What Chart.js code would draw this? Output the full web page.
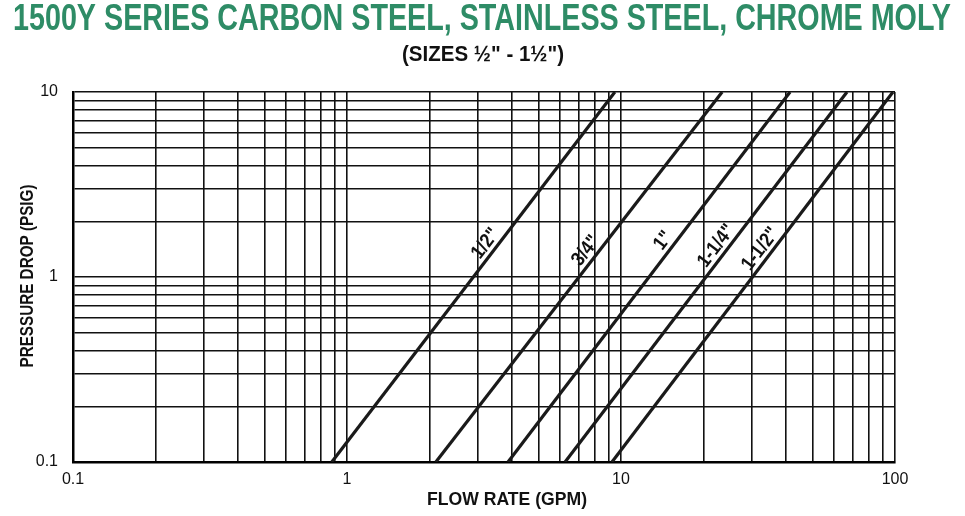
<!DOCTYPE html>
<html>
<head>
<meta charset="utf-8">
<script src="https://cdn.jsdelivr.net/npm/chart.js@4.4.0/dist/chart.umd.min.js"></script>
<style>
  html, body { margin: 0; padding: 0; background: #fff; }
  #wrap { width: 965px; height: 516px; }
</style>
</head>
<body>
<div id="wrap"><canvas id="chart" width="965" height="516"></canvas></div>
<script>
// pipe sizes and their flow rate (GPM) at 0.1 and 10 psig
const sizeLabels = ['1/2"', '3/4"', '1"', '1-1/4"', '1-1/2"'];
const pressureEnds = [0.1, 10];
const flowHalfInch = [0.88, 9.5];
const flowThreeQuarterInch = [2.11, 23.4];
const flowOneInch = [3.87, 41.4];
const flowOneQuarterInch = [6.25, 66.8];
const flowOneHalfInch = [9.27, 98.3];
const flowSeries = [flowHalfInch, flowThreeQuarterInch, flowOneInch, flowOneQuarterInch, flowOneHalfInch];
// pressure where each size label sits on its line
const labelPressure = [1.40, 1.28, 1.45, 1.36, 1.31];

// grid lines and labelled ticks
const xGridValues = [0.1, 0.2, 0.3, 0.4, 0.5, 0.6, 0.7, 0.8, 0.9,
                     1, 2, 3, 4, 5, 6, 7, 8, 9,
                     10, 20, 30, 40, 50, 60, 70, 80, 90, 100];
const yGridValues = [0.1, 0.2, 0.3, 0.4, 0.5, 0.6, 0.7, 0.8, 0.9,
                     1, 2, 3, 4, 5, 6, 7, 8, 9, 10];
const xTickLabels = [0.1, 1, 10, 100];
const yTickLabels = [0.1, 1, 10];

const titleText = '1500Y SERIES CARBON STEEL, STAINLESS STEEL, CHROME MOLY';
const subtitleText = '(SIZES ½" - 1½")';
const xTitleText = 'FLOW RATE (GPM)';
const yTitleText = 'PRESSURE DROP (PSIG)';

const FAMILY = '"Liberation Sans", Arial, sans-serif';

// draws text squeezed horizontally to a given width (the original uses condensed type)
function drawFitted(ctx, text, cx, cy, font, width, color, angle) {
    ctx.save();
    ctx.font = font;
    ctx.fillStyle = color;
    ctx.textAlign = 'center';
    ctx.textBaseline = 'middle';
    ctx.translate(cx, cy);
    if (angle) ctx.rotate(angle);
    const w = ctx.measureText(text).width;
    ctx.scale(width / w, 1);
    ctx.fillText(text, 0, 0);
    ctx.restore();
}

const textLayer = {
    id: 'textLayer',
    afterDatasetsDraw(chart) {
        const ctx = chart.ctx;
        const yScale = chart.scales.y;

        // labels along each line
        chart.data.datasets.forEach((ds, i) => {
            const pts = chart.getDatasetMeta(i).data;
            const p0 = pts[0], p1 = pts[1];
            const py = yScale.getPixelForValue(labelPressure[i]);
            const t = (py - p0.y) / (p1.y - p0.y);
            const px = p0.x + t * (p1.x - p0.x);
            const angle = Math.atan2(p1.y - p0.y, p1.x - p0.x);
            ctx.save();
            ctx.translate(px, py);
            ctx.rotate(angle);
            ctx.font = 'bold 20px ' + FAMILY;
            ctx.fillStyle = '#111';
            ctx.textAlign = 'center';
            ctx.textBaseline = 'alphabetic';
            ctx.scale(0.88, 1);
            ctx.fillText(ds.label, 0, -5);
            ctx.restore();
        });
    },
    afterDraw(chart) {
        const ctx = chart.ctx;
        drawFitted(ctx, titleText, 482, 20, 'bold 36px ' + FAMILY, 938, '#2e8c66');
        drawFitted(ctx, subtitleText, 483, 55, 'bold 22px ' + FAMILY, 162, '#111');
        drawFitted(ctx, xTitleText, 507, 500, 'bold 18px ' + FAMILY, 160, '#111');
        drawFitted(ctx, yTitleText, 28, 276, 'bold 18px ' + FAMILY, 183, '#111', -Math.PI / 2);
    }
};

const gridStyle = { color: '#111', lineWidth: 1.6, drawTicks: false };

new Chart(document.getElementById('chart'), {
    type: 'line',
    data: {
        datasets: flowSeries.map((flow, i) => ({
            label: sizeLabels[i],
            data: flow.map((f, j) => ({ x: f, y: pressureEnds[j] })),
            borderColor: '#1a1a1a',
            borderWidth: 3.2,
            pointRadius: 0,
            fill: false,
            tension: 0,
        })),
    },
    options: {
        responsive: false,
        animation: false,
        layout: { padding: { top: 92, right: 70, bottom: 0, left: 0 } },
        scales: {
            x: {
                type: 'logarithmic',
                min: 0.1,
                max: 100,
                afterBuildTicks: scale => { scale.ticks = xGridValues.map(v => ({ value: v })); },
                afterFit: scale => { scale.height = 54; },
                ticks: {
                    autoSkip: false,
                    maxRotation: 0,
                    padding: 8,
                    color: '#111',
                    font: { family: FAMILY, size: 16 },
                    callback: v => xTickLabels.includes(v) ? String(v) : '',
                },
                grid: gridStyle,
                border: { color: '#000', width: 2.5 },
            },
            y: {
                type: 'logarithmic',
                min: 0.1,
                max: 10,
                afterBuildTicks: scale => { scale.ticks = yGridValues.map(v => ({ value: v })); },
                afterFit: scale => { scale.width = 73; },
                ticks: {
                    autoSkip: false,
                    padding: 15,
                    color: '#111',
                    font: { family: FAMILY, size: 16 },
                    callback: v => yTickLabels.includes(v) ? String(v) : '',
                },
                grid: gridStyle,
                border: { color: '#000', width: 2.5 },
            },
        },
        plugins: {
            legend: { display: false },
            tooltip: { enabled: false },
        },
    },
    plugins: [textLayer],
});
</script>
</body>
</html>
